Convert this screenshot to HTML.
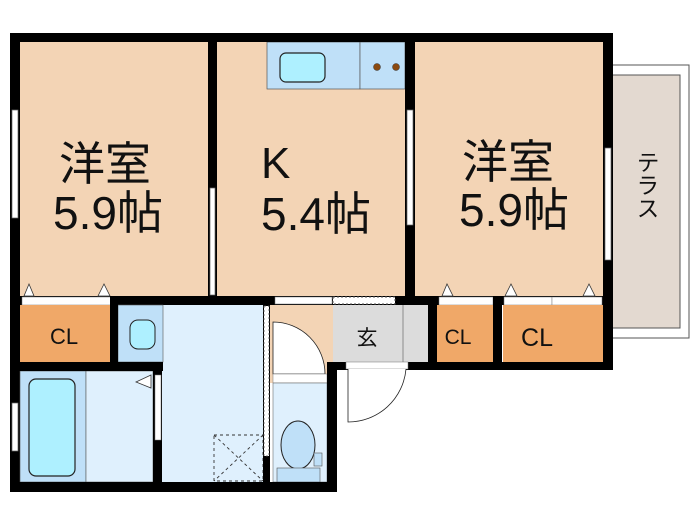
<!DOCTYPE html>
<html><head><meta charset="utf-8"><style>
html,body{margin:0;padding:0;background:#fff;width:700px;height:525px;overflow:hidden}
text{font-family:"Liberation Sans","Noto Sans CJK JP",sans-serif;fill:#111}
</style></head><body>
<svg width="700" height="525" viewBox="0 0 700 525" xmlns="http://www.w3.org/2000/svg">
<rect x="612" y="65" width="77" height="273" fill="#fff" stroke="#555" stroke-width="1"/>
<rect x="612" y="75" width="68" height="253" fill="#e3d9d0" stroke="#555" stroke-width="1"/>
<text x="646" y="185" font-size="23" text-anchor="middle" style="writing-mode:vertical-rl">テラス</text>
<rect x="20" y="42" width="188" height="254" fill="#f3d4b5"/>
<rect x="217" y="42" width="188" height="254" fill="#f3d4b5"/>
<rect x="415" y="42" width="188" height="254" fill="#f3d4b5"/>
<rect x="267" y="42" width="93" height="47" fill="#bfe0f8" stroke="#555" stroke-width="0.7"/>
<rect x="360" y="42" width="45" height="47" fill="#bfe0f8" stroke="#555" stroke-width="0.7"/>
<rect x="280" y="53" width="45" height="29" rx="6" fill="#aef0ff" stroke="#222" stroke-width="1.2"/>
<circle cx="377" cy="67" r="3.5" fill="#8b4a10" stroke="#333" stroke-width="0.5"/>
<circle cx="396" cy="67" r="3.5" fill="#8b4a10" stroke="#333" stroke-width="0.5"/>
<rect x="10" y="33" width="603" height="9" fill="#000"/>
<rect x="10" y="33" width="10" height="459" fill="#000"/>
<rect x="603" y="33" width="10" height="337" fill="#000"/>
<rect x="208" y="33" width="9" height="272" fill="#000"/>
<rect x="405" y="33" width="10" height="272" fill="#000"/>
<rect x="12" y="110" width="6" height="108" fill="#fff" stroke="#666" stroke-width="0.7"/>
<rect x="210" y="188" width="5" height="107" fill="#fff" stroke="#666" stroke-width="0.7"/>
<rect x="407" y="110" width="6" height="115" fill="#fff" stroke="#666" stroke-width="0.7"/>
<rect x="605" y="148" width="6" height="112" fill="#fff" stroke="#666" stroke-width="0.7"/>
<rect x="12" y="403" width="6" height="48" fill="#fff" stroke="#666" stroke-width="0.7"/>
<rect x="10" y="296" width="603" height="9" fill="#000"/>
<rect x="22" y="297" width="90" height="8" fill="#fff" stroke="#777" stroke-width="0.5"/>
<rect x="275" y="297" width="57" height="7" fill="#fff" stroke="#777" stroke-width="0.5"/>
<rect x="333" y="297" width="62" height="7" fill="#fff" stroke="#555" stroke-width="1" stroke-dasharray="2,2"/>
<rect x="439" y="297" width="54" height="8" fill="#fff" stroke="#777" stroke-width="0.5"/>
<rect x="504" y="297" width="48" height="8" fill="#fff" stroke="#777" stroke-width="0.5"/>
<rect x="552" y="297" width="50" height="8" fill="#fff" stroke="#777" stroke-width="0.5"/>
<g fill="#fff" stroke="#333" stroke-width="0.8">
<polygon points="24,296 29,284 34,296"/><polygon points="98,296 104,284 110,296"/>
<polygon points="442,296 447,284 453,296"/><polygon points="505,296 511,284 517,296"/><polygon points="583,296 589,284 595,296"/>
</g>
<rect x="20" y="305" width="90" height="57" fill="#f0a868"/>
<rect x="118" y="305" width="145" height="177" fill="#dff0fd"/>
<rect x="118" y="305" width="45" height="57" fill="#bfe0f8" stroke="#555" stroke-width="0.6"/>
<rect x="130" y="320" width="25" height="29" rx="8" fill="#aef0ff" stroke="#222" stroke-width="1"/>
<rect x="20" y="371" width="66" height="111" fill="#bfe0f8" stroke="#555" stroke-width="0.6"/>
<rect x="86" y="371" width="67" height="111" fill="#dff0fd" stroke="#555" stroke-width="0.6"/>
<rect x="29" y="379" width="46" height="97" rx="7" fill="#aef0ff" stroke="#222" stroke-width="1.2"/>
<rect x="270" y="305" width="63" height="78" fill="#f3d4b5"/>
<path d="M273 322 A52 52 0 0 1 325 374 L273 374 Z" fill="#fff" stroke="#222" stroke-width="0.8"/>
<rect x="273" y="374" width="54" height="9" fill="#fff" stroke="#777" stroke-width="0.5"/>
<rect x="273" y="383" width="54" height="99" fill="#dff0fd" stroke="#555" stroke-width="0.5"/>
<ellipse cx="298" cy="445" rx="17" ry="24" fill="#bfe0f8" stroke="#222" stroke-width="1"/>
<rect x="277" y="468" width="43" height="14" fill="#bfe0f8" stroke="#555" stroke-width="0.6"/>
<rect x="314" y="453" width="8" height="13" fill="#bfe0f8" stroke="#555" stroke-width="0.6"/>
<rect x="333" y="305" width="95" height="57" fill="#dcdcdc"/>
<line x1="403" y1="305" x2="403" y2="362" stroke="#777" stroke-width="0.8"/>
<rect x="437" y="305" width="56" height="57" fill="#f0a868"/>
<rect x="503" y="305" width="100" height="57" fill="#f0a868"/>
<g stroke="#333" stroke-width="0.9" stroke-dasharray="3,3" fill="none">
<rect x="214" y="435" width="49" height="46"/><line x1="214" y1="435" x2="263" y2="481"/><line x1="263" y1="435" x2="214" y2="481"/>
</g>
<rect x="110" y="296" width="8" height="75" fill="#000"/>
<rect x="10" y="362" width="153" height="9" fill="#000"/>
<rect x="153" y="362" width="9" height="120" fill="#000"/>
<rect x="155" y="375" width="6" height="65" fill="#fff" stroke="#777" stroke-width="0.5"/>
<polygon points="151,375 136,382 151,388" fill="#fff" stroke="#333" stroke-width="0.8"/>
<rect x="10" y="482" width="327" height="10" fill="#000"/>
<rect x="263" y="305" width="7" height="177" fill="#000"/>
<rect x="264" y="306" width="5" height="150" fill="#fff" stroke="#555" stroke-width="0.8" stroke-dasharray="2,2"/>
<rect x="327" y="363" width="10" height="129" fill="#000"/>
<rect x="327" y="362" width="286" height="8" fill="#000"/>
<rect x="493" y="296" width="9" height="74" fill="#000"/>
<rect x="428" y="296" width="9" height="74" fill="#000"/>
<rect x="346" y="362" width="62" height="7" fill="#fff" stroke="#777" stroke-width="0.5"/>
<path d="M348 369 L348 422 A58 58 0 0 0 406 369" fill="#fff" stroke="#222" stroke-width="0.8"/>
<text x="105" y="180" font-size="46" text-anchor="middle">洋室</text>
<text x="108" y="229" font-size="46" text-anchor="middle">5.9帖</text>
<text x="261" y="178" font-size="44">K</text>
<text x="316" y="230" font-size="46" text-anchor="middle">5.4帖</text>
<text x="508" y="178" font-size="46" text-anchor="middle">洋室</text>
<text x="514" y="226" font-size="46" text-anchor="middle">5.9帖</text>
<text x="64" y="344" font-size="22" text-anchor="middle">CL</text>
<text x="458" y="344" font-size="21" text-anchor="middle">CL</text>
<text x="537" y="346" font-size="25" text-anchor="middle">CL</text>
<text x="367" y="345" font-size="21" text-anchor="middle">玄</text>
</svg>
</body></html>
